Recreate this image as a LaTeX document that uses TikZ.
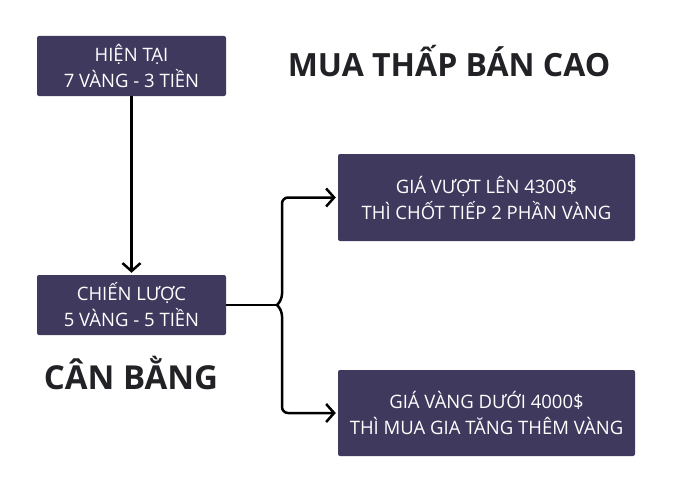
\documentclass[tikz,border=0pt]{standalone}
\usepackage{fontspec}
\setmainfont{Open Sans}
\usepackage{xcolor}
\usepackage{tikz}
\usetikzlibrary{
    arrows.meta,
    positioning
}
\definecolor{boxfill}{RGB}{63,57,94}
\definecolor{titlecol}{RGB}{34,34,38}
\tikzstyle{box} = [
    rectangle,
    rounded corners=2pt,
    text centered,
    align=center,
    fill=boxfill,
    text=white,
    font=\fontsize{18.5}{26}\selectfont
]
\tikzstyle{arrow} = [
    line width=2.5pt,
    -{Straight Barb[length=8pt,width=18pt,line width=2.5pt]}
]
\tikzstyle{title} = [
    text=titlecol,
    font=\fontsize{32}{38}\selectfont\bfseries
]

\begin{document}
\begin{tikzpicture}[x=1pt, y=-1pt]
    \useasboundingbox (0,0) rectangle (688,503);
    % khung
    \node[box, minimum width=189pt, minimum height=60pt] (now) at (131.5,66)
        {HIỆN TẠI\\7 VÀNG - 3 TIỀN};
    \node[box, minimum width=189pt, minimum height=60pt] (plan) at (131.5,305)
        {CHIẾN LƯỢC\\5 VÀNG - 5 TIỀN};
    \node[box, minimum width=297pt, minimum height=87pt] (up) at (486.5,197.5)
        {GIÁ VƯỢT LÊN 4300\$\\THÌ CHỐT TIẾP 2 PHẦN VÀNG};
    \node[box, minimum width=297pt, minimum height=86pt] (down) at (486.5,413)
        {GIÁ VÀNG DƯỚI 4000\$\\THÌ MUA GIA TĂNG THÊM VÀNG};
    % tieu de
    \node[title] (head) at (449,61) {MUA THẤP BÁN CAO};
    \node[title, font=\fontsize{33}{38}\selectfont\bfseries] (bal) at (131,373) {CÂN BẰNG};
    % mui ten
    \coordinate (tip) at (277,305);
    \draw[arrow, shorten >=2pt] (now) -- (plan);
    \draw[line width=2.5pt] (plan.east) -- (tip);
    \draw[arrow, rounded corners=6pt, shorten >=2pt] (tip) -- ++(5,-5) |- (up.west);
    \draw[arrow, rounded corners=6pt, shorten >=2pt] (tip) -- ++(5,5) |- (down.west);
\end{tikzpicture}
\end{document}
